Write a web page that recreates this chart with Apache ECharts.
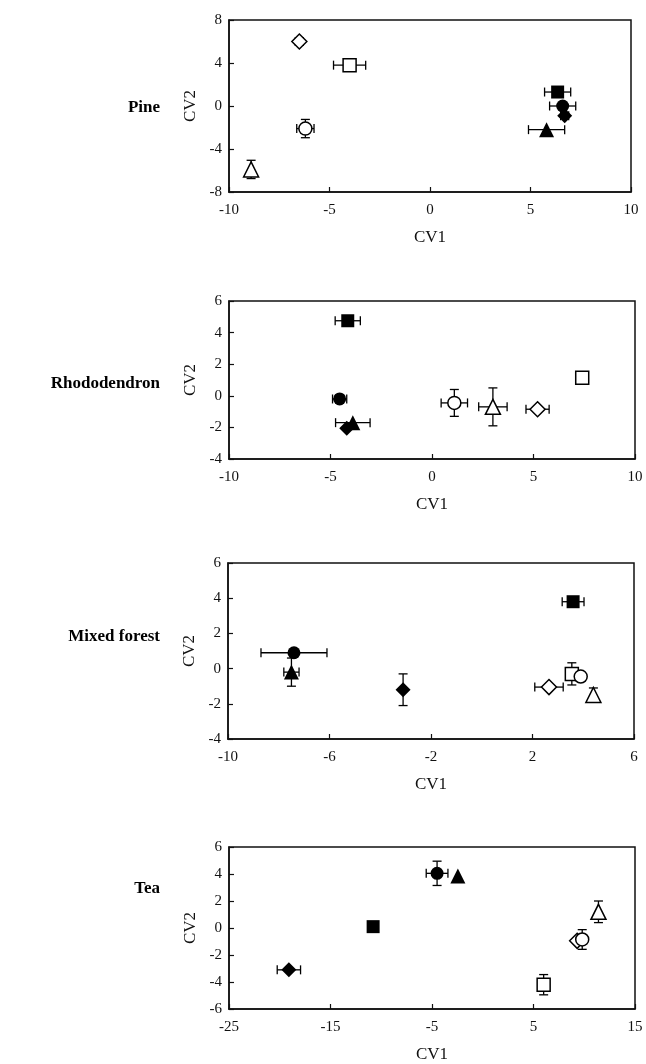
<!DOCTYPE html>
<html>
<head>
<meta charset="utf-8">
<script src="https://cdn.jsdelivr.net/npm/echarts@6/dist/echarts.min.js"></script>
<style>
html,body{margin:0;padding:0;background:#fff;}
#chart{width:646px;height:1064px;}
</style>
</head>
<body>
<div id="chart"></div>
<script>
// Marker groups (same order in every data array; later ones drawn on top)
var groups = ['openSquare','filledSquare','openDiamond','filledDiamond','openCircle','filledCircle','openTriangle','filledTriangle'];
var panelNames = ['Pine','Rhododendron','Mixed forest','Tea'];

// Pine
var pineX   = [-4.0, 6.35, -6.5, 6.7, -6.2, 6.6, -8.9, 5.8];
var pineY   = [3.8, 1.3, 6.0, -0.9, -2.1, 0.0, -5.9, -2.2];
var pineXE  = [0.8, 0.65, 0.2, 0.2, 0.43, 0.65, 0, 0.9];
var pineYE  = [0, 0, 0.2, 0.2, 0.85, 0, 0.85, 0];
// Rhododendron
var rhodoX  = [7.4, -4.15, 5.2, -4.2, 1.1, -4.55, 3.0, -3.9];
var rhodoY  = [1.15, 4.75, -0.85, -2.05, -0.45, -0.2, -0.7, -1.7];
var rhodoXE = [0, 0.62, 0.57, 0, 0.65, 0.35, 0.7, 0.85];
var rhodoYE = [0.3, 0, 0, 0, 0.85, 0, 1.2, 0];
// Mixed forest
var mixedX  = [3.55, 3.6, 2.65, -3.1, 3.9, -7.4, 4.4, -7.5];
var mixedY  = [-0.3, 3.8, -1.05, -1.2, -0.45, 0.9, -1.5, -0.2];
var mixedXE = [0, 0.43, 0.56, 0, 0, 1.3, 0, 0.3];
var mixedYE = [0.63, 0, 0, 0.9, 0, 0, 0.4, 0.8];
// Tea
var teaX    = [6.0, -10.8, 9.3, -19.1, 9.8, -4.5, 11.4, -2.45];
var teaY    = [-4.2, 0.1, -0.95, -3.1, -0.85, 4.05, 1.2, 3.85];
var teaXE   = [0, 0, 0, 1.15, 0, 1.07, 0, 0];
var teaYE   = [0.75, 0, 0, 0, 0.73, 0.9, 0.8, 0];

// Axis ranges / tick spacing
var xMin = [-10, -10, -10, -25], xMax = [10, 10, 6, 15], xStep = [5, 5, 4, 10];
var yMin = [-8, -4, -4, -6],     yMax = [8, 6, 6, 6],    yStep = [4, 2, 2, 2];

var panelData = [
  [pineX, pineY, pineXE, pineYE],
  [rhodoX, rhodoY, rhodoXE, rhodoYE],
  [mixedX, mixedY, mixedXE, mixedYE],
  [teaX, teaY, teaXE, teaYE]
];

var grids = [
  {left: 229, top: 20,  width: 402, height: 172},
  {left: 229, top: 301, width: 406, height: 158},
  {left: 228, top: 563, width: 406, height: 176},
  {left: 229, top: 847, width: 406, height: 162}
];
var titleY = [107, 383, 636, 888];

var font = 'Liberation Serif';
var symbolMap = {Circle: 'circle', Square: 'rect', Triangle: 'triangle', Diamond: 'diamond'};
var sizeMap = {Circle: 13, Square: 13, Triangle: 15, Diamond: 15};

var option = {
  animation: false,
  backgroundColor: '#fff',
  grid: [], xAxis: [], yAxis: [], series: [], graphic: []
};

for (var p = 0; p < 4; p++) {
  var g = grids[p];
  option.grid.push({left: g.left, top: g.top, width: g.width, height: g.height,
    show: true, borderColor: '#111', borderWidth: 1.5, backgroundColor: 'transparent'});
  option.xAxis.push({
    type: 'value', gridIndex: p, min: xMin[p], max: xMax[p], interval: xStep[p],
    name: 'CV1', nameLocation: 'middle', nameGap: 37,
    nameTextStyle: {fontFamily: font, fontSize: 17, color: '#111'},
    axisLine: {show: true, onZero: false, lineStyle: {color: '#111', width: 1.5}},
    axisTick: {show: true, inside: true, length: 5, lineStyle: {color: '#111', width: 1.2}},
    axisLabel: {fontFamily: font, fontSize: 15, color: '#111', margin: 11, showMinLabel: true, showMaxLabel: true},
    splitLine: {show: false}
  });
  option.yAxis.push({
    type: 'value', gridIndex: p, min: yMin[p], max: yMax[p], interval: yStep[p],
    name: 'CV2', nameLocation: 'middle', nameGap: 30,
    nameTextStyle: {fontFamily: font, fontSize: 17, color: '#111'},
    axisLine: {show: true, onZero: false, lineStyle: {color: '#111', width: 1.5}},
    axisTick: {show: true, inside: true, length: 5, lineStyle: {color: '#111', width: 1.2}},
    axisLabel: {fontFamily: font, fontSize: 15, color: '#111', margin: 7, showMinLabel: true, showMaxLabel: true},
    splitLine: {show: false}
  });

  var d = panelData[p];
  var errData = [], ptData = [];
  for (var i = 0; i < groups.length; i++) {
    errData.push([d[0][i], d[1][i], d[2][i], d[3][i]]);
    var name = groups[i];
    var filled = name.indexOf('filled') === 0;
    var shape = name.replace(/^(open|filled)/, '');
    ptData.push({
      value: [d[0][i], d[1][i]],
      symbol: symbolMap[shape],
      symbolSize: sizeMap[shape],
      itemStyle: {color: filled ? '#000' : '#fff', borderColor: '#000', borderWidth: filled ? 0 : 1.5, opacity: 1}
    });
  }

  option.series.push({
    type: 'custom', xAxisIndex: p, yAxisIndex: p, z: 2,
    data: errData,
    renderItem: function (params, api) {
      var x = api.value(0), y = api.value(1), ex = api.value(2), ey = api.value(3);
      var c = api.coord([x, y]);
      var children = [];
      var st = {stroke: '#000', lineWidth: 1.3};
      var cap = 4.5;
      if (ex > 0) {
        var l = api.coord([x - ex, y]), r = api.coord([x + ex, y]);
        children.push({type: 'line', shape: {x1: l[0], y1: c[1], x2: r[0], y2: c[1]}, style: st});
        children.push({type: 'line', shape: {x1: l[0], y1: c[1] - cap, x2: l[0], y2: c[1] + cap}, style: st});
        children.push({type: 'line', shape: {x1: r[0], y1: c[1] - cap, x2: r[0], y2: c[1] + cap}, style: st});
      }
      if (ey > 0) {
        var t = api.coord([x, y + ey]), b = api.coord([x, y - ey]);
        children.push({type: 'line', shape: {x1: c[0], y1: t[1], x2: c[0], y2: b[1]}, style: st});
        children.push({type: 'line', shape: {x1: c[0] - cap, y1: t[1], x2: c[0] + cap, y2: t[1]}, style: st});
        children.push({type: 'line', shape: {x1: c[0] - cap, y1: b[1], x2: c[0] + cap, y2: b[1]}, style: st});
      }
      return {type: 'group', children: children};
    }
  });
  option.series.push({
    type: 'scatter', xAxisIndex: p, yAxisIndex: p, z: 3,
    itemStyle: {opacity: 1},
    emphasis: {disabled: true},
    data: ptData
  });

  option.graphic.push({
    type: 'text', right: 646 - 160, top: titleY[p] - 8,
    style: {text: panelNames[p], font: 'bold 17px "Liberation Serif"', fill: '#000', textAlign: 'right'}
  });
}

var chart = echarts.init(document.getElementById('chart'));
chart.setOption(option);
</script>
</body>
</html>
